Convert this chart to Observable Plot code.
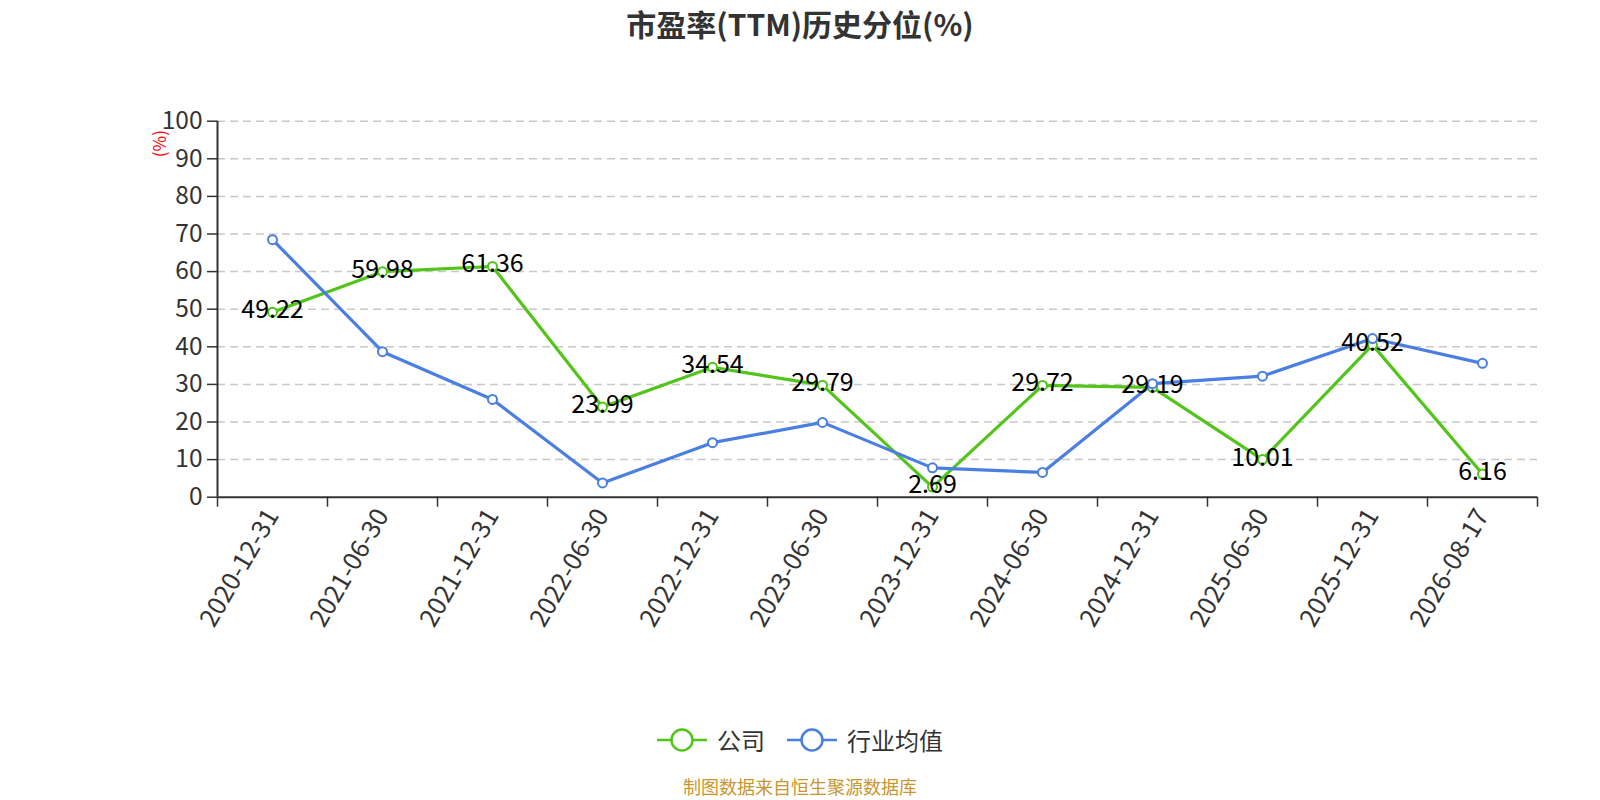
<!DOCTYPE html>
<html>
<head>
<meta charset="utf-8">
<script src="https://cdn.jsdelivr.net/npm/d3@7"></script>
<script src="https://cdn.jsdelivr.net/npm/@observablehq/plot@0.6"></script>
<style>
  html, body { margin: 0; padding: 0; background: #fff; }
  #page { position: relative; width: 1600px; height: 800px; overflow: hidden; font-family: "Noto Sans CJK SC", "Noto Sans", sans-serif; }
  #title { position: absolute; left: 0; top: 0; width: 1600px; height: 60px; text-align: center; font-size: 30px; font-weight: bold; color: #333; line-height: 46px; }
  #chart { position: absolute; left: 0; top: 60px; }
  #legend { position: absolute; left: 0; top: 722px; width: 1600px; display: flex; justify-content: center; align-items: center; font-size: 24px; color: #333; }
  .item { display: flex; align-items: center; margin: 0 11px; }
  .item svg { margin-right: 10px; }
  #caption { position: absolute; left: 0; top: 776px; width: 1600px; text-align: center; font-size: 18px; color: #c8962e; line-height: 20px; }
</style>
</head>
<body>
<div id="page">
  <div id="title">市盈率(TTM)历史分位(%)</div>
  <div id="chart"></div>
  <div id="legend"></div>
  <div id="caption">制图数据来自恒生聚源数据库</div>
</div>
<script>
const categories = ["2020-12-31","2021-06-30","2021-12-31","2022-06-30","2022-12-31","2023-06-30","2023-12-31","2024-06-30","2024-12-31","2025-06-30","2025-12-31","2026-08-17"];
const company = [49.22, 59.98, 61.36, 23.99, 34.54, 29.79, 2.69, 29.72, 29.19, 10.01, 40.52, 6.16];
const industry = [68.5, 38.7, 26.0, 3.8, 14.5, 19.9, 7.8, 6.6, 30.2, 32.2, 42.2, 35.6];
const yTicks = [0, 10, 20, 30, 40, 50, 60, 70, 80, 90, 100];
const seriesNames = ["公司", "行业均值"];
const colors = ["#52c41a", "#4a7fe1"];

const W = 1600, H = 600;
const mL = 217, mR = 63, mT = 60.7, mB = 163.3;
const bw = (W - mL - mR) / categories.length;

const compData = categories.map((c, i) => ({c, v: company[i]}));
const indData = categories.map((c, i) => ({c, v: industry[i]}));

const chart = Plot.plot({
  width: W, height: H,
  marginLeft: mL, marginRight: mR, marginTop: mT, marginBottom: mB,
  style: {fontFamily: "'Noto Sans CJK SC', 'Noto Sans', sans-serif", fontSize: "23px", color: "#333", background: "white", overflow: "visible"},
  x: {type: "band", domain: categories, padding: 0, axis: null},
  y: {domain: [0, 100], axis: null},
  marks: [
    Plot.gridY(yTicks.filter(d => d > 0), {stroke: "#c8c8c8", strokeOpacity: 1, strokeWidth: 1.5, strokeDasharray: "8,5"}),
    Plot.axisY(yTicks, {tickSize: 10, tickPadding: 5, stroke: "#333", fill: "#333", fontSize: 24.5, label: null, strokeWidth: 1.5}),
    Plot.ruleX([categories[0]], {dx: -bw / 2, stroke: "#333", strokeWidth: 2}),
    Plot.ruleY([0], {stroke: "#333", strokeWidth: 2}),
    Plot.axisX({tickSize: 10, tickFormat: () => "", dx: -bw / 2, stroke: "#333", strokeWidth: 1.5, label: null}),
    Plot.axisX([categories[categories.length - 1]], {tickSize: 10, tickFormat: () => "", dx: bw / 2, stroke: "#333", strokeWidth: 1.5, label: null}),
    Plot.axisX({tickSize: 0, tickPadding: 14, tickRotate: -60, fill: "#333", fontSize: 25.5, label: null}),
    Plot.text(["(%)"], {frameAnchor: "top-left", text: d => d, dx: -64, dy: 36, rotate: -90, fill: "red", fontSize: 17}),
    Plot.line(compData, {x: "c", y: "v", stroke: colors[0], strokeWidth: 3.2}),
    Plot.dot(compData, {x: "c", y: "v", r: 4.5, fill: "white", stroke: colors[0], strokeWidth: 2}),
    Plot.line(indData, {x: "c", y: "v", stroke: colors[1], strokeWidth: 3.2}),
    Plot.dot(indData, {x: "c", y: "v", r: 4.5, fill: "white", stroke: colors[1], strokeWidth: 2}),
    Plot.text(compData, {x: "c", y: "v", text: d => d.v.toFixed(2), fill: "black", fontSize: 25, dy: -2})
  ]
});
document.getElementById("chart").appendChild(chart);

const legend = document.getElementById("legend");
seriesNames.forEach((name, i) => {
  const item = document.createElement("div");
  item.className = "item";
  item.innerHTML = `<svg width="50" height="26"><line x1="0" y1="13" x2="50" y2="13" stroke="${colors[i]}" stroke-width="2.5"/><circle cx="25" cy="13" r="10.5" fill="white" stroke="${colors[i]}" stroke-width="2.5"/></svg><span>${name}</span>`;
  legend.appendChild(item);
});
</script>
</body>
</html>
